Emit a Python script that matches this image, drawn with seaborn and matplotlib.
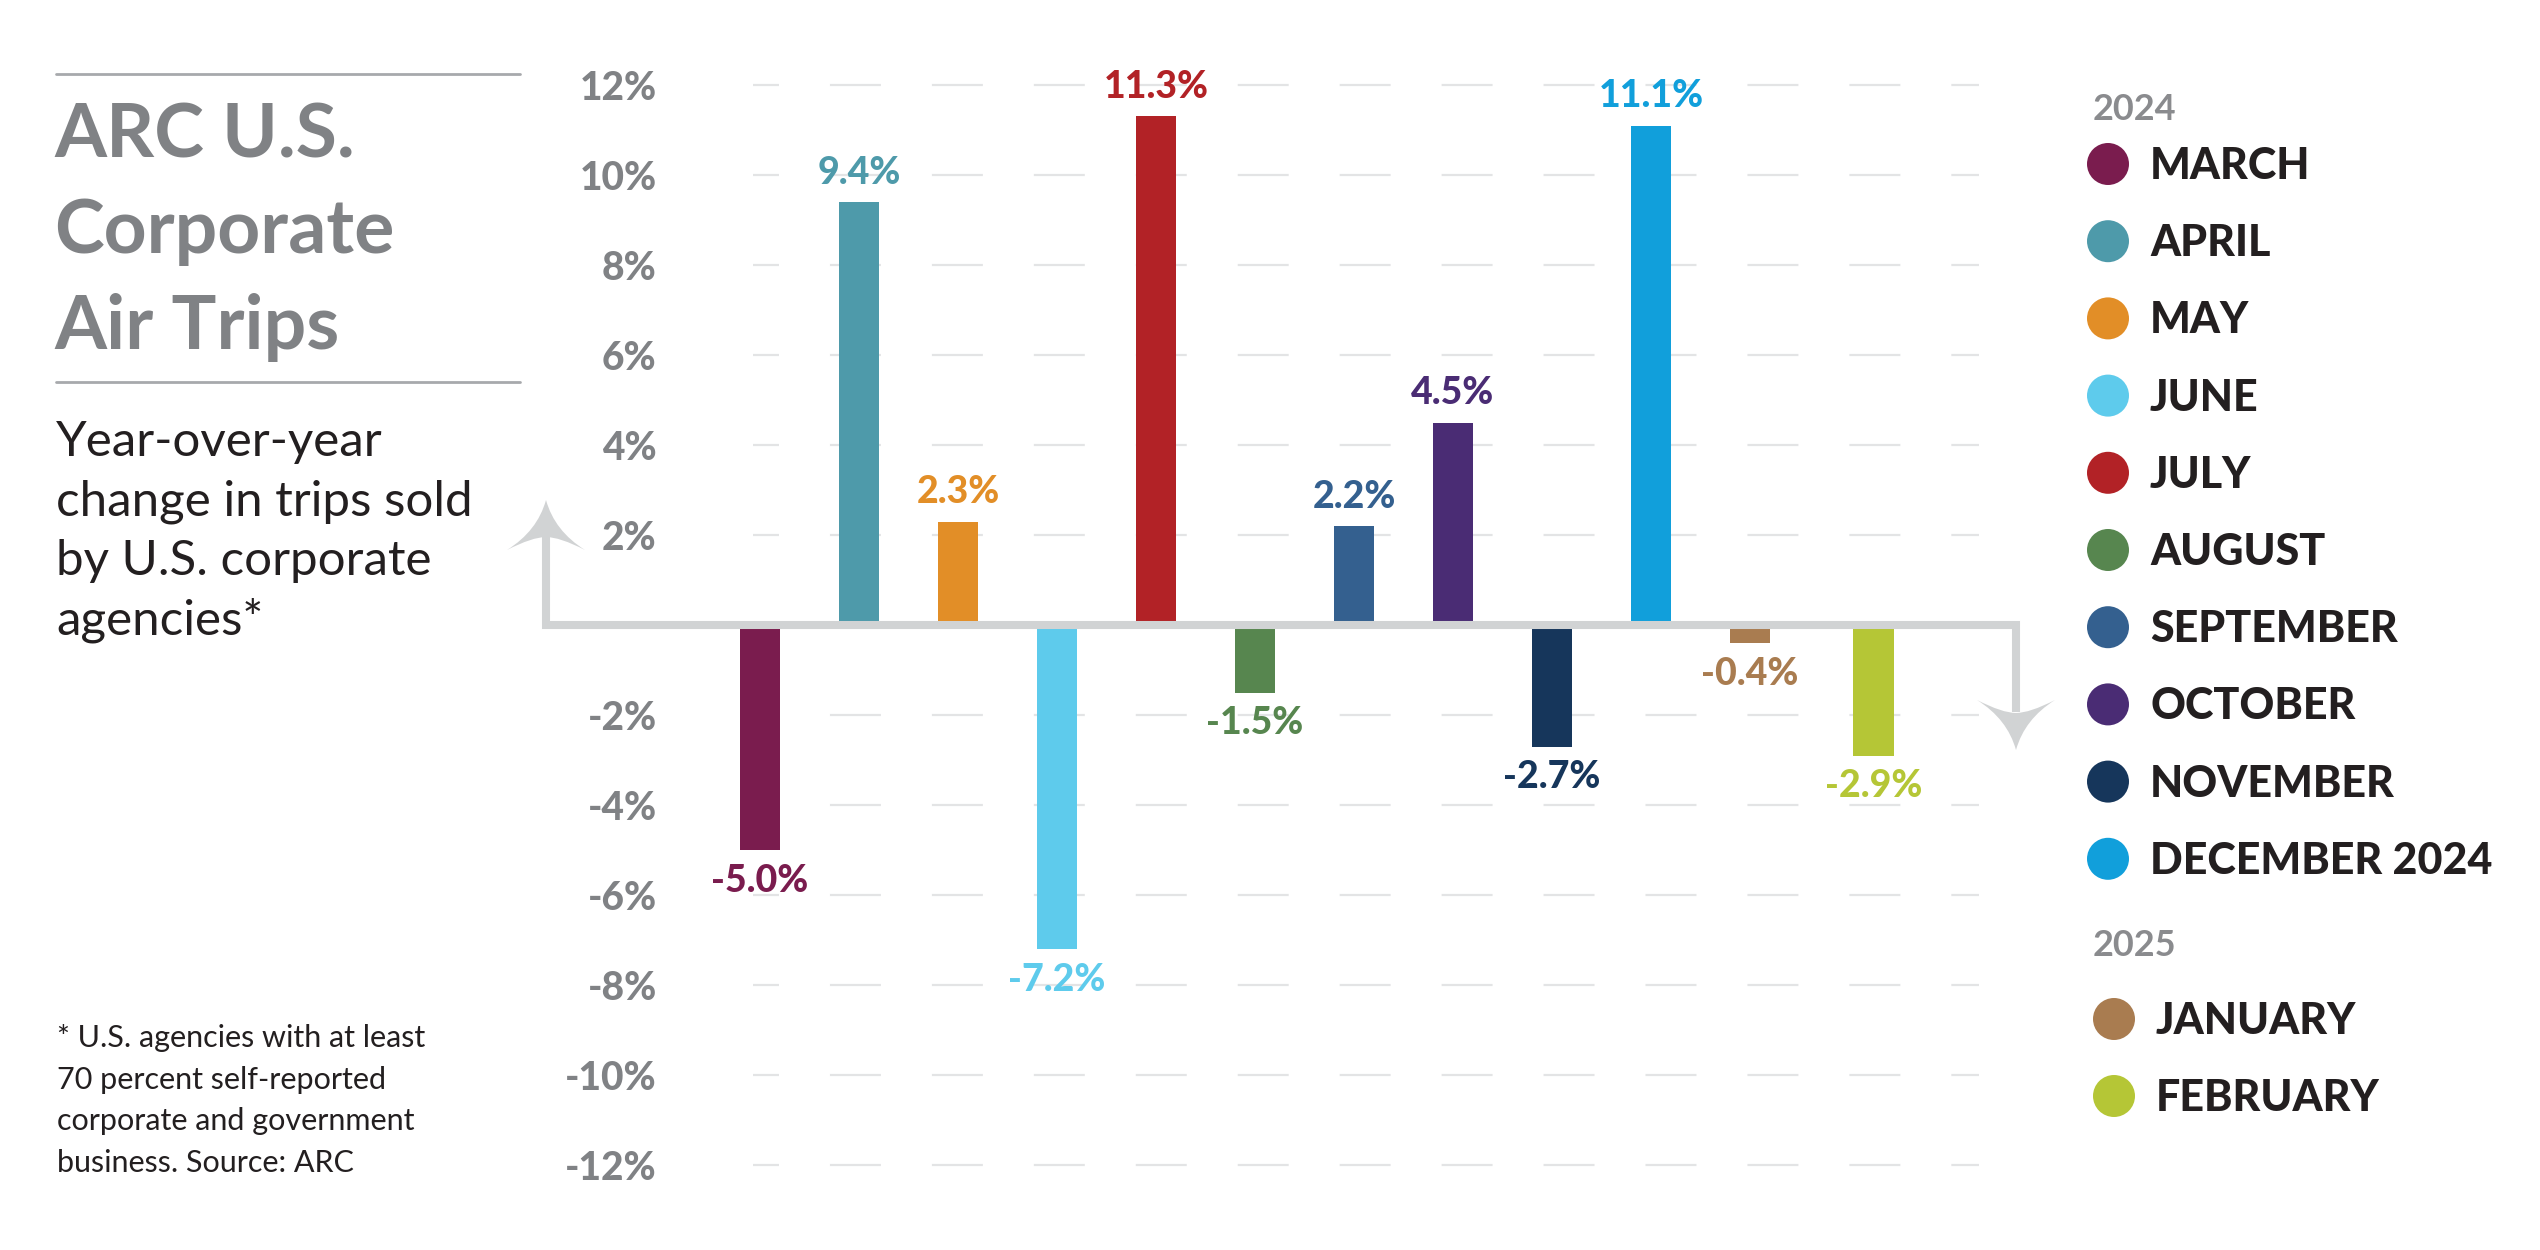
import numpy as np
import matplotlib
matplotlib.use("Agg")
import matplotlib.pyplot as plt
from matplotlib.patches import Ellipse, PathPatch
from matplotlib.path import Path
from matplotlib.lines import Line2D
import seaborn as sns

# ---------------- data ----------------
months = ["MARCH", "APRIL", "MAY", "JUNE", "JULY", "AUGUST", "SEPTEMBER",
          "OCTOBER", "NOVEMBER", "DECEMBER 2024", "JANUARY", "FEBRUARY"]
years = ["2024"] * 10 + ["2025"] * 2
values = [-5.0, 9.4, 2.3, -7.2, 11.3, -1.5, 2.2, 4.5, -2.7, 11.1, -0.4, -2.9]
value_labels = ["-5.0%", "9.4%", "2.3%", "-7.2%", "11.3%", "-1.5%", "2.2%",
                "4.5%", "-2.7%", "11.1%", "-0.4%", "-2.9%"]
colors = ["#7a1c4e", "#4e9aaa", "#e28e27", "#5ecbec", "#b22226", "#57864f",
          "#34608f", "#4a2c74", "#16365b", "#119fdb", "#a97c50", "#b5c636"]
ytick_values = [-12, -10, -8, -6, -4, -2, 2, 4, 6, 8, 10, 12]
ytick_labels = ["-12%", "-10%", "-8%", "-6%", "-4%", "-2%",
                "2%", "4%", "6%", "8%", "10%", "12%"]
title_lines = ["ARC U.S.", "Corporate", "Air Trips"]
subtitle_lines = ["Year-over-year", "change in trips sold",
                  "by U.S. corporate", "agencies*"]
footnote_lines = ["* U.S. agencies with at least", "70 percent self-reported",
                  "corporate and government", "business. Source: ARC"]

# ---------------- style ----------------
sns.set_theme(style="white")
plt.rcParams["font.family"] = ["Lato", "DejaVu Sans"]
plt.rcParams["lines.scale_dashes"] = False

W, H, DPI = 2540, 1250, 100
fig = plt.figure(figsize=(W / DPI, H / DPI), dpi=DPI)
fig.patch.set_facecolor("white")

AX_L = 672
ax = fig.add_axes([AX_L / W, 0, 1 - AX_L / W, 1])
ax.set_facecolor("none")

X0, XS = 760.0, 99.0   # pixel of first bar, pixels per slot
Y0, YS = 625.0, 45.0   # pixel of zero line, pixels per 1%


def dx(px):
    return (px - X0) / XS


def dy(py):
    return (Y0 - py) / YS


def fx(px):
    return px / W


def fy(py):
    return 1 - py / H


GRAY_TXT = "#808285"
AXIS_GRAY = "#d1d3d4"
DARK = "#231f20"
HEAVY = "black"

# bar slot positions (February sits a bit further right)
pos = np.arange(len(months), dtype=float)
pos[-1] += 0.25

ax.set_xlim(dx(AX_L), dx(W))
ax.set_ylim(dy(H), dy(0))

# dashed gridlines
for v in ytick_values:
    ax.plot([dx(753), dx(1979)], [v, v], color="#e3e4e5", lw=1.6,
            ls=(18, (36.7, 36.7)), dash_capstyle="butt", zorder=0)

pal = dict(zip(months, colors))
sns.barplot(x=pos, y=values, hue=months, palette=pal, dodge=False,
            native_scale=True, width=0.41, saturation=1, legend=False,
            errorbar=None, ax=ax, zorder=2, linewidth=0)

# value labels
for p, v, lab, c in zip(pos, values, value_labels, colors):
    if v >= 0:
        ax.annotate(lab, (p, v), xytext=(0, 13), textcoords="offset points",
                    ha="center", va="baseline", fontsize=27, fontweight=HEAVY,
                    color=c, zorder=4)
    else:
        ax.annotate(lab, (p, v), xytext=(0, -10), textcoords="offset points",
                    ha="center", va="top", fontsize=27, fontweight=HEAVY,
                    color=c, zorder=4)

# y tick labels
ax.set_yticks(ytick_values)
ax.set_yticklabels(ytick_labels)
ax.tick_params(axis="y", length=0, pad=11, labelsize=28, labelcolor=GRAY_TXT)
for t in ax.get_yticklabels():
    t.set_fontweight(HEAVY)
ax.set_xticks([])
ax.set_xlabel("")
ax.set_ylabel("")
for s in ax.spines.values():
    s.set_visible(False)
ax.grid(False)

# axis line with arrows
LX, RX = 546, 2016
ax.plot([dx(LX), dx(LX), dx(RX), dx(RX)], [dy(535), 0, 0, dy(712)],
        color=AXIS_GRAY, lw=5.8, solid_joinstyle="miter",
        solid_capstyle="butt", zorder=3, clip_on=False)


def arrowhead(cx, tip, sign, hw=39, length=50, notch=13):
    # sign = +1 for up arrow (wings below tip), -1 for down arrow
    pts = [
        (cx, tip),
        (cx - hw * 0.22, tip + sign * length * 0.62), (cx - hw, tip + sign * length),
        (cx - hw * 0.35, tip + sign * (length - notch)), (cx, tip + sign * (length - notch)),
        (cx + hw * 0.35, tip + sign * (length - notch)), (cx + hw, tip + sign * length),
        (cx + hw * 0.22, tip + sign * length * 0.62), (cx, tip),
        (cx, tip),
    ]
    codes = [Path.MOVETO, Path.CURVE3, Path.CURVE3, Path.CURVE3, Path.CURVE3,
             Path.CURVE3, Path.CURVE3, Path.CURVE3, Path.CURVE3, Path.CLOSEPOLY]
    verts = [(dx(a), dy(b)) for a, b in pts]
    patch = PathPatch(Path(verts, codes), facecolor=AXIS_GRAY, edgecolor="none",
                      zorder=3, clip_on=False)
    ax.add_patch(patch)


arrowhead(LX, 500, +1)
arrowhead(RX, 750, -1)

# ---------------- left text block ----------------
for yy in (74, 382):
    fig.add_artist(Line2D([fx(56), fx(520)], [fy(yy), fy(yy)], color="#a7a9ac", lw=2))

for i, line in enumerate(title_lines):
    fig.text(fx(54), fy(157 + 96 * i), line, fontsize=54, fontweight="bold",
             color=GRAY_TXT, ha="left", va="baseline")

for i, line in enumerate(subtitle_lines):
    fig.text(fx(56), fy(456 + 59.5 * i), line, fontsize=35.5, color=DARK,
             ha="left", va="baseline")

for i, line in enumerate(footnote_lines):
    fig.text(fx(57), fy(1047 + 41.5 * i), line, fontsize=22, color=DARK,
             ha="left", va="baseline")

# ---------------- legend ----------------
R = 21
leg_y = {}
for i in range(10):
    leg_y[months[i]] = 164 + 77.2 * i
leg_y[months[10]] = 1019
leg_y[months[11]] = 1096
fig.text(fx(2093), fy(107 + 13), "2024", fontsize=26, fontweight="bold",
         color="#8a8b8e", ha="left", va="baseline")
fig.text(fx(2093), fy(943 + 13), "2025", fontsize=26, fontweight="bold",
         color="#8a8b8e", ha="left", va="baseline")
for m, c, yr in zip(months, colors, years):
    cx = 2108 if yr == "2024" else 2114
    tx = 2150 if yr == "2024" else 2156
    cy = leg_y[m]
    fig.add_artist(Ellipse((fx(cx), fy(cy)), 2 * R / W, 2 * R / H,
                           facecolor=c, edgecolor="none"))
    fig.text(fx(tx), fy(cy + 15), m, fontsize=31, fontweight=HEAVY,
             color=DARK, ha="left", va="baseline")

fig.savefig("out.png", dpi=DPI, facecolor="white")
